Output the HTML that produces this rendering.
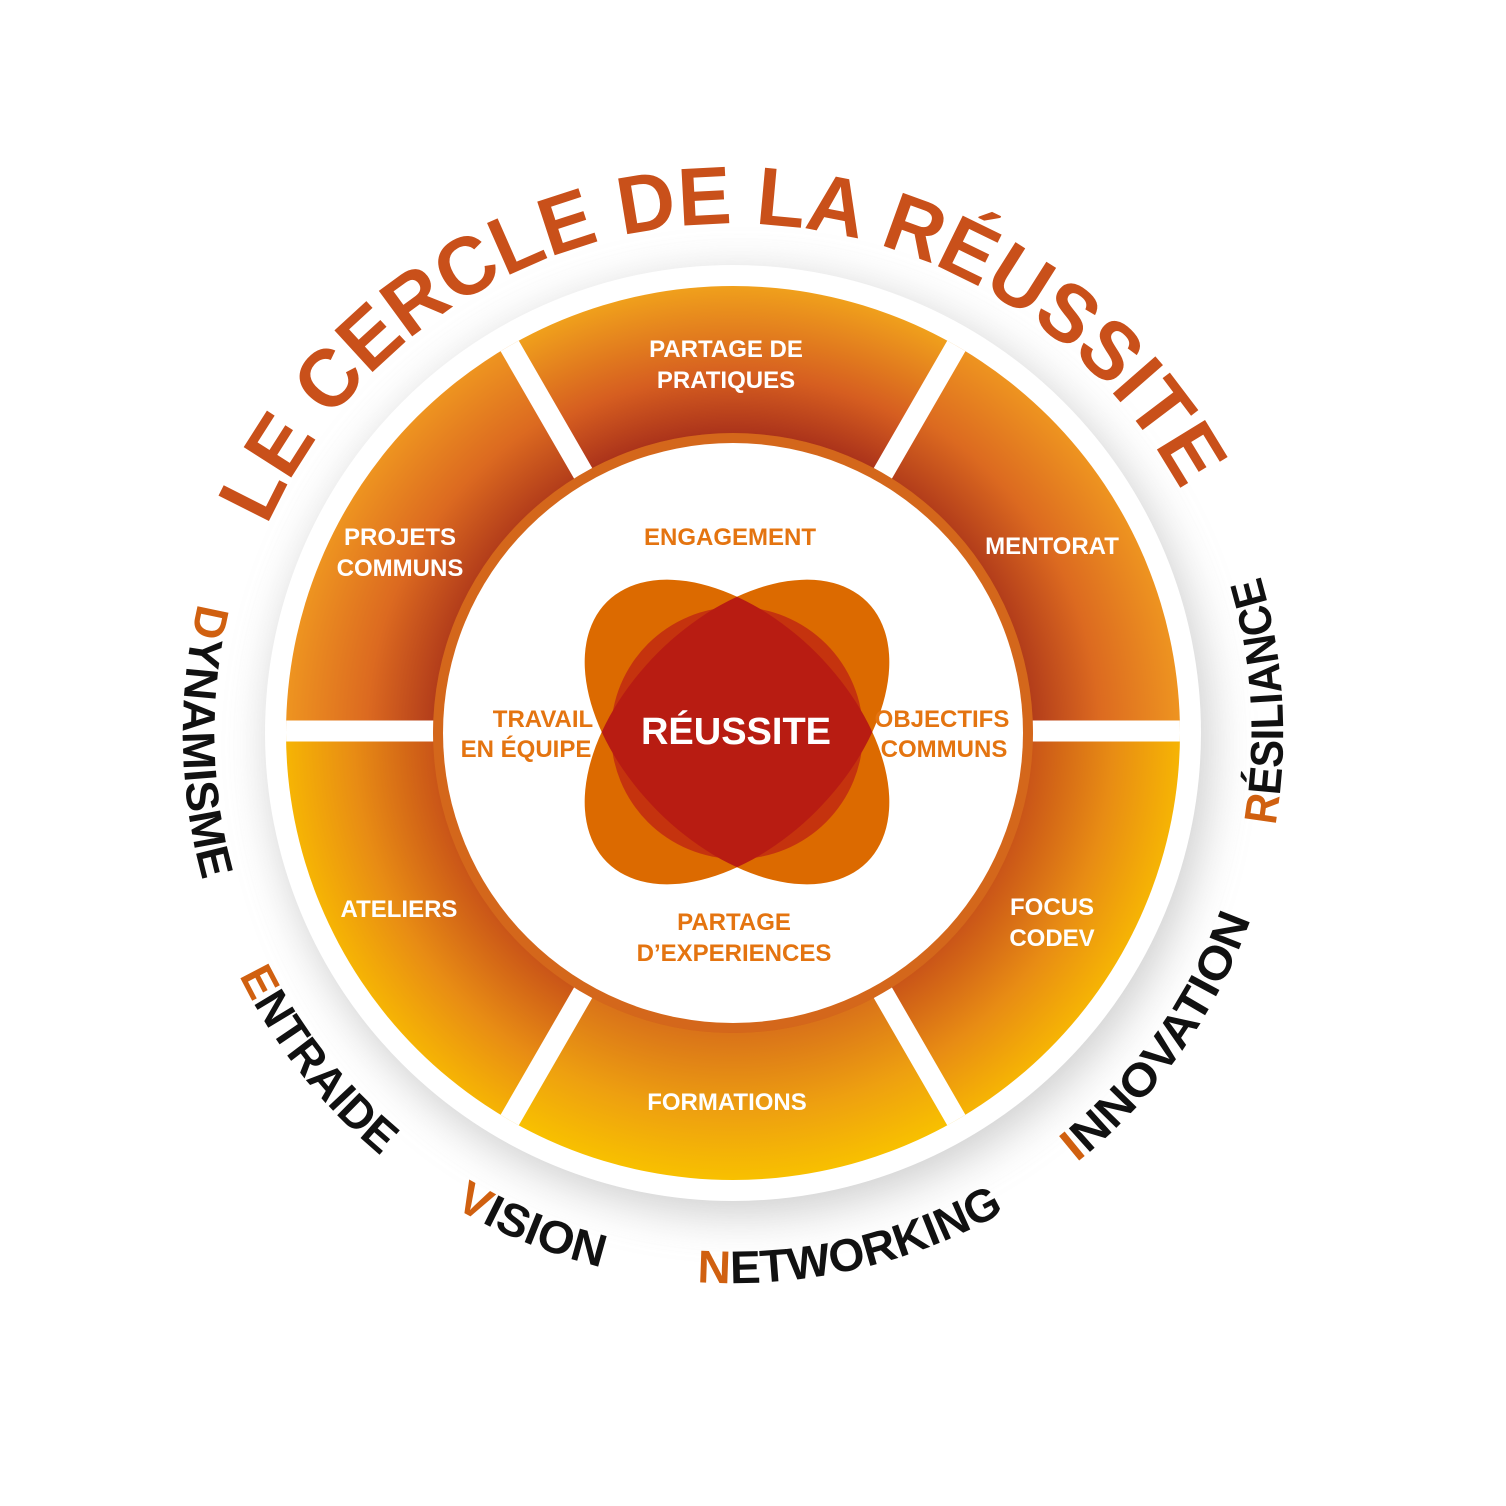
<!DOCTYPE html>
<html><head><meta charset="utf-8"><style>
html,body{margin:0;padding:0;background:#fff;}
svg{display:block;}
text{font-family:"Liberation Sans",sans-serif;font-weight:bold;}
</style></head><body>
<svg width="1506" height="1506" viewBox="0 0 1506 1506" xmlns="http://www.w3.org/2000/svg">
<defs>
<filter id="sh" x="-20%" y="-20%" width="140%" height="140%"><feGaussianBlur stdDeviation="22"/></filter>
<radialGradient id="gTop" gradientUnits="userSpaceOnUse" cx="733" cy="733" r="447">
<stop offset="0.66" stop-color="#a8301a"/><stop offset="0.8" stop-color="#d65e20"/><stop offset="1" stop-color="#f0a01c"/></radialGradient>
<radialGradient id="gUp" gradientUnits="userSpaceOnUse" cx="733" cy="733" r="447">
<stop offset="0.66" stop-color="#b03a1a"/><stop offset="0.82" stop-color="#dc6a20"/><stop offset="1" stop-color="#ee9420"/></radialGradient>
<radialGradient id="gLow" gradientUnits="userSpaceOnUse" cx="733" cy="733" r="447">
<stop offset="0.66" stop-color="#c85218"/><stop offset="0.85" stop-color="#e88c14"/><stop offset="1" stop-color="#f6b404"/></radialGradient>
<radialGradient id="gBot" gradientUnits="userSpaceOnUse" cx="733" cy="733" r="447">
<stop offset="0.66" stop-color="#d8701a"/><stop offset="0.85" stop-color="#eea010"/><stop offset="1" stop-color="#f8c000"/></radialGradient>
<clipPath id="ring"><circle cx="733" cy="733" r="447"/></clipPath>
<clipPath id="e1"><ellipse cx="737" cy="732" rx="184" ry="112" transform="rotate(45 737 732)"/></clipPath>
<path id="titleArc" d="M 267 526 A 510 510 0 0 1 1183 494" fill="none"/>
<path id="wordArc" d="M 216 545 A 550 550 0 0 0 1250 921 A 550 550 0 0 0 216 545" fill="none"/>
</defs>

<circle cx="740" cy="745" r="470" fill="#bbb" filter="url(#sh)" opacity="0.7"/>
<circle cx="733" cy="733" r="468" fill="#fff"/>

<g clip-path="url(#ring)">
<polygon points="733,733 998,274 468,274" fill="url(#gTop)"/>
<polygon points="733,733 998,274 1263,733" fill="url(#gUp)"/>
<polygon points="733,733 468,274 203,733" fill="url(#gUp)"/>
<polygon points="733,733 1263,733 998,1192" fill="url(#gLow)"/>
<polygon points="733,733 203,733 468,1192" fill="url(#gLow)"/>
<polygon points="733,733 998,1192 468,1192" fill="url(#gBot)"/>
<g stroke="#fff" stroke-width="21">
<line x1="260" y1="731" x2="1206" y2="731"/>
<line x1="497" y1="324" x2="969" y2="1142"/>
<line x1="497" y1="1142" x2="969" y2="324"/>
</g>
</g>
<circle cx="733" cy="733" r="300" fill="#c8561e"/>
<circle cx="733" cy="733" r="300" fill="#e07818" opacity="0.5"/>
<circle cx="733" cy="733" r="290" fill="#fff"/>

<!-- flower -->
<ellipse cx="737" cy="732" rx="184" ry="112" transform="rotate(45 737 732)" fill="#dc6a00"/>
<ellipse cx="737" cy="732" rx="184" ry="112" transform="rotate(-45 737 732)" fill="#dc6a00"/>
<circle cx="737" cy="733" r="126" fill="#c5330e"/>
<g clip-path="url(#e1)">
<ellipse cx="737" cy="732" rx="184" ry="112" transform="rotate(-45 737 732)" fill="#b81c12"/>
</g>
<text x="736" y="744" font-size="38" fill="#fff" text-anchor="middle">RÉUSSITE</text>

<g font-size="24" fill="#e47410" text-anchor="middle">
<text x="730" y="545">ENGAGEMENT</text>
<text x="543" y="727">TRAVAIL</text>
<text x="526" y="757">EN ÉQUIPE</text>
<text x="942" y="727">OBJECTIFS</text>
<text x="944" y="757">COMMUNS</text>
<text x="734" y="930">PARTAGE</text>
<text x="734" y="961">D’EXPERIENCES</text>
</g>
<g font-size="24" fill="#fff" text-anchor="middle">
<text x="726" y="357">PARTAGE DE</text>
<text x="726" y="388">PRATIQUES</text>
<text x="400" y="545">PROJETS</text>
<text x="400" y="576">COMMUNS</text>
<text x="1052" y="554">MENTORAT</text>
<text x="399" y="917">ATELIERS</text>
<text x="1052" y="915">FOCUS</text>
<text x="1052" y="946">CODEV</text>
<text x="727" y="1110">FORMATIONS</text>
</g>

<text font-size="82" fill="#c9501a"><textPath href="#titleArc" textLength="1135" lengthAdjust="spacingAndGlyphs">LE CERCLE DE LA RÉUSSITE</textPath></text>

<g font-size="46" fill="#111">
<text><textPath href="#wordArc" startOffset="61" textLength="280" lengthAdjust="spacingAndGlyphs"><tspan fill="#d06010">D</tspan>YNAMISME</textPath></text>
<text><textPath href="#wordArc" startOffset="443" textLength="231" lengthAdjust="spacingAndGlyphs"><tspan fill="#d06010">E</tspan>NTRAIDE</textPath></text>
<text><textPath href="#wordArc" startOffset="763" textLength="160" lengthAdjust="spacingAndGlyphs"><tspan fill="#d06010">V</tspan>ISION</textPath></text>
<text><textPath href="#wordArc" startOffset="1020" textLength="320" lengthAdjust="spacingAndGlyphs"><tspan fill="#d06010">N</tspan>ETWORKING</textPath></text>
<text><textPath href="#wordArc" startOffset="1427" textLength="303" lengthAdjust="spacingAndGlyphs"><tspan fill="#d06010">I</tspan>NNOVATION</textPath></text>
<text><textPath href="#wordArc" startOffset="1827" textLength="252" lengthAdjust="spacingAndGlyphs"><tspan fill="#d06010">R</tspan>ÉSILIANCE</textPath></text>
</g>
</svg>
</body></html>
